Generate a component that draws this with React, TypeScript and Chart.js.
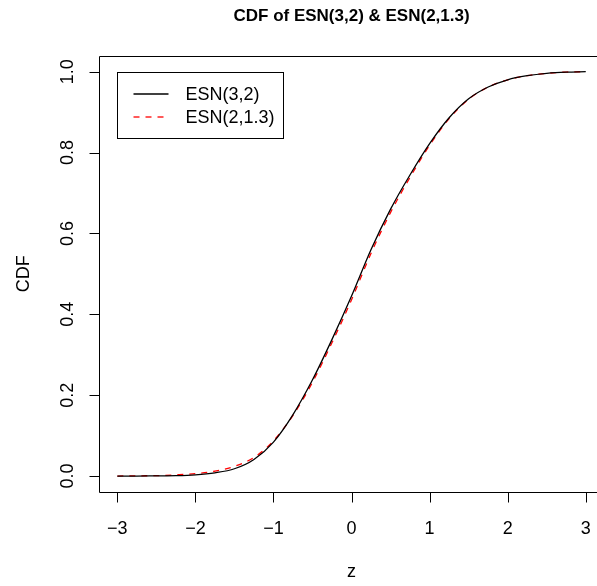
import React, { useEffect, useRef } from "react";
import { Chart, registerables } from "chart.js";

Chart.register(...registerables);

const zValues = [-3, -2.75, -2.5, -2.25, -2, -1.75, -1.5, -1.25, -1, -0.75, -0.5, -0.25, 0, 0.25, 0.5, 0.75, 1, 1.25, 1.5, 1.75, 2, 2.25, 2.5, 2.75, 3];
const esn32 = [0.0, 0.0, 0.0005, 0.001, 0.003, 0.008, 0.018, 0.041, 0.084, 0.152, 0.238, 0.338, 0.445, 0.56, 0.66, 0.745, 0.822, 0.886, 0.933, 0.962, 0.98, 0.99, 0.996, 0.999, 1.0];
const esn213 = [0.0, 0.0005, 0.001, 0.003, 0.006, 0.012, 0.024, 0.046, 0.087, 0.15, 0.232, 0.33, 0.436, 0.551, 0.652, 0.739, 0.818, 0.884, 0.932, 0.962, 0.98, 0.99, 0.996, 0.999, 1.0];
const xTicks = [-3, -2, -1, 0, 1, 2, 3];
const xTickLabels = ["\u22123", "\u22122", "\u22121", "0", "1", "2", "3"];
const yTicks = [0, 0.2, 0.4, 0.6, 0.8, 1.0];
const yTickLabels = ["0.0", "0.2", "0.4", "0.6", "0.8", "1.0"];
const seriesNames = ["ESN(3,2)", "ESN(2,1.3)"];
const titleText = "CDF of ESN(3,2) & ESN(2,1.3)";
const xTitle = "z";
const yTitle = "CDF";

const FONT = "'Liberation Sans', Arial, Helvetica, sans-serif";

const decor = {
  id: "rdecor",
  afterDatasetsDraw(chart: any) {
    const ctx = chart.ctx;
    const area = chart.chartArea;
    const xs = chart.scales.x;
    const ys = chart.scales.y;
    ctx.save();
    ctx.strokeStyle = "#000";
    ctx.fillStyle = "#000";
    ctx.lineWidth = 1;
    const L = Math.round(area.left) + 0.5;
    const T = Math.round(area.top) + 0.5;
    const B = Math.round(area.bottom) + 0.5;
    ctx.beginPath();
    ctx.moveTo(chart.width + 10, T);
    ctx.lineTo(L, T);
    ctx.lineTo(L, B);
    ctx.lineTo(chart.width + 10, B);
    ctx.stroke();
    ctx.font = "18px " + FONT;
    ctx.textAlign = "center";
    ctx.textBaseline = "alphabetic";
    xTicks.forEach((v, i) => {
      const px = Math.round(xs.getPixelForValue(v)) + 0.5;
      ctx.beginPath();
      ctx.moveTo(px, B);
      ctx.lineTo(px, B + 10);
      ctx.stroke();
      ctx.fillText(xTickLabels[i], xs.getPixelForValue(v), 534);
    });
    yTicks.forEach((v, i) => {
      const py = Math.round(ys.getPixelForValue(v)) + 0.5;
      ctx.beginPath();
      ctx.moveTo(L, py);
      ctx.lineTo(L - 10, py);
      ctx.stroke();
      ctx.save();
      ctx.translate(73, ys.getPixelForValue(v));
      ctx.rotate(-Math.PI / 2);
      ctx.fillText(yTickLabels[i], 0, 0);
      ctx.restore();
    });
    const cx = (area.left + xs.getPixelForValue(3.24)) / 2;
    ctx.fillText(xTitle, cx, 577);
    ctx.save();
    ctx.translate(29, (area.top + area.bottom) / 2);
    ctx.rotate(-Math.PI / 2);
    ctx.fillText(yTitle, 0, 0);
    ctx.restore();
    ctx.font = "bold 17px " + FONT;
    ctx.fillText(titleText, cx, 21);
    const lx = Math.round(xs.getPixelForValue(-3)) + 0.5;
    const ly = Math.round(ys.getPixelForValue(1)) + 0.5;
    ctx.strokeRect(lx, ly, 166, 66);
    const rows = [ly + 21.5, ly + 44.5];
    ctx.font = "18px " + FONT;
    ctx.textAlign = "left";
    ctx.textBaseline = "middle";
    ctx.lineWidth = 1.3;
    ctx.strokeStyle = "#000";
    ctx.beginPath();
    ctx.moveTo(lx + 16, rows[0]);
    ctx.lineTo(lx + 51, rows[0]);
    ctx.stroke();
    ctx.strokeStyle = "#FF0000";
    ctx.setLineDash([6, 6]);
    ctx.beginPath();
    ctx.moveTo(lx + 16, rows[1]);
    ctx.lineTo(lx + 51, rows[1]);
    ctx.stroke();
    ctx.setLineDash([]);
    ctx.fillStyle = "#000";
    ctx.fillText(seriesNames[0], lx + 68, rows[0] + 1);
    ctx.fillText(seriesNames[1], lx + 68, rows[1] + 1);
    ctx.restore();
  },
};

export default function App() {
  const ref = useRef<HTMLCanvasElement | null>(null);
  useEffect(() => {
    if (!ref.current) return;
    const chart = new Chart(ref.current, {
      type: "line",
      data: {
        datasets: [
          {
            label: seriesNames[0],
            data: zValues.map((z, i) => ({ x: z, y: esn32[i] })),
            borderColor: "#000000",
            borderWidth: 1.3,
            pointRadius: 0,
            cubicInterpolationMode: "monotone",
            fill: false,
          },
          {
            label: seriesNames[1],
            data: zValues.map((z, i) => ({ x: z, y: esn213[i] })),
            borderColor: "#FF0000",
            borderWidth: 1.3,
            borderDash: [6, 6],
            pointRadius: 0,
            cubicInterpolationMode: "monotone",
            fill: false,
          },
        ],
      },
      options: {
        animation: false,
        responsive: false,
        maintainAspectRatio: false,
        devicePixelRatio: 1,
        layout: { padding: { left: 98.6, right: 0, top: 55.5, bottom: 93.8 } },
        plugins: { legend: { display: false }, tooltip: { enabled: false }, title: { display: false } },
        scales: {
          x: { type: "linear", min: -3.24, max: 3.144, display: false },
          y: { type: "linear", min: -0.04, max: 1.04, display: false },
        },
        events: [],
      },
      plugins: [decor],
    });
    return () => chart.destroy();
  }, []);
  return (
    <div style={{ position: "fixed", left: 0, top: 0, width: 597, height: 586, background: "#fff" }}>
      <canvas ref={ref} width={597} height={586} style={{ width: 597, height: 586, display: "block" }} />
    </div>
  );
}
